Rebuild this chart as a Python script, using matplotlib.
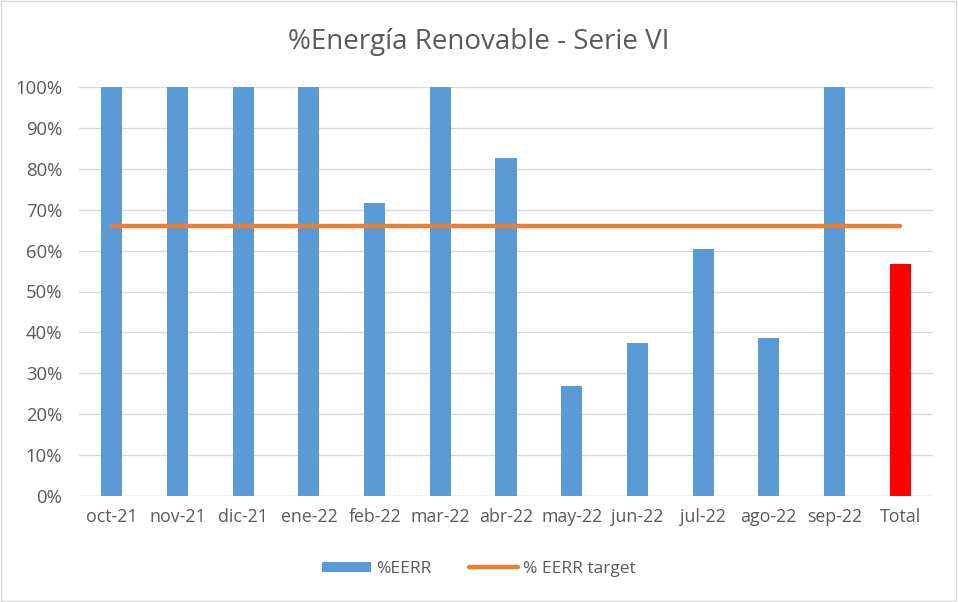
import matplotlib
matplotlib.use("Agg")
import matplotlib.pyplot as plt
import numpy as np

meses = ["oct-21", "nov-21", "dic-21", "ene-22", "feb-22", "mar-22", "abr-22",
         "may-22", "jun-22", "jul-22", "ago-22", "sep-22", "Total"]
eerr = [1.0, 1.0, 1.0, 1.0, 0.716, 1.0, 0.826, 0.269, 0.374, 0.604, 0.386, 1.0, 0.567]
target = [0.66] * 13

plt.rcParams['font.family'] = ['Open Sans', 'DejaVu Sans']
gris = "#595959"

fig = plt.figure(figsize=(9.58, 6.02), dpi=100)
fig.patches.append(plt.Rectangle((0.001, 0.001), 0.997, 0.997, transform=fig.transFigure,
                                 fill=False, edgecolor="#d9d9d9", linewidth=1))
ax = fig.add_axes([79 / 958, 1 - 496 / 602, (933 - 79) / 958, (496 - 87) / 602])

x = np.arange(len(meses))
colores = ["#5b9bd5"] * 12 + ["#ff0000"]
barras = ax.bar(x, eerr, width=0.32, color=colores, zorder=2, label="%EERR")
linea, = ax.plot(x, target, color="#ed7d31", linewidth=3.2, solid_capstyle="round", zorder=3,
                 label="% EERR target")

ax.set_xlim(-0.5, len(meses) - 0.5)
ax.set_ylim(0, 1)
ax.set_yticks(np.arange(0, 1.01, 0.1))
ax.set_yticklabels([f"{int(round(v * 100))}%" for v in np.arange(0, 1.01, 0.1)])
ax.set_xticks(x)
ax.set_xticklabels(meses)
ax.tick_params(axis="both", length=0, labelsize=12.8, colors=gris, pad=9)
ax.tick_params(axis="y", labelsize=13.3, pad=12)
ax.grid(axis="y", color="#d9d9d9", linewidth=1, zorder=0)
for s in ax.spines.values():
    s.set_visible(False)
ax.axhline(0, color="#d9d9d9", linewidth=1, zorder=1)

fig.text(0.5, 1 - 42 / 602, "%Energía Renovable - Serie VI", ha="center", va="center",
         fontsize=20, color=gris)

fig.legend([barras[0], linea], ["%EERR", "% EERR target"], loc="center",
           bbox_to_anchor=(0.5, 1 - 569 / 602), ncol=2,
           frameon=False, fontsize=12.5, labelcolor=gris, handlelength=2.8,
           handleheight=0.5, columnspacing=2.2, handletextpad=0.3)

fig.savefig("out.png", dpi=100)
